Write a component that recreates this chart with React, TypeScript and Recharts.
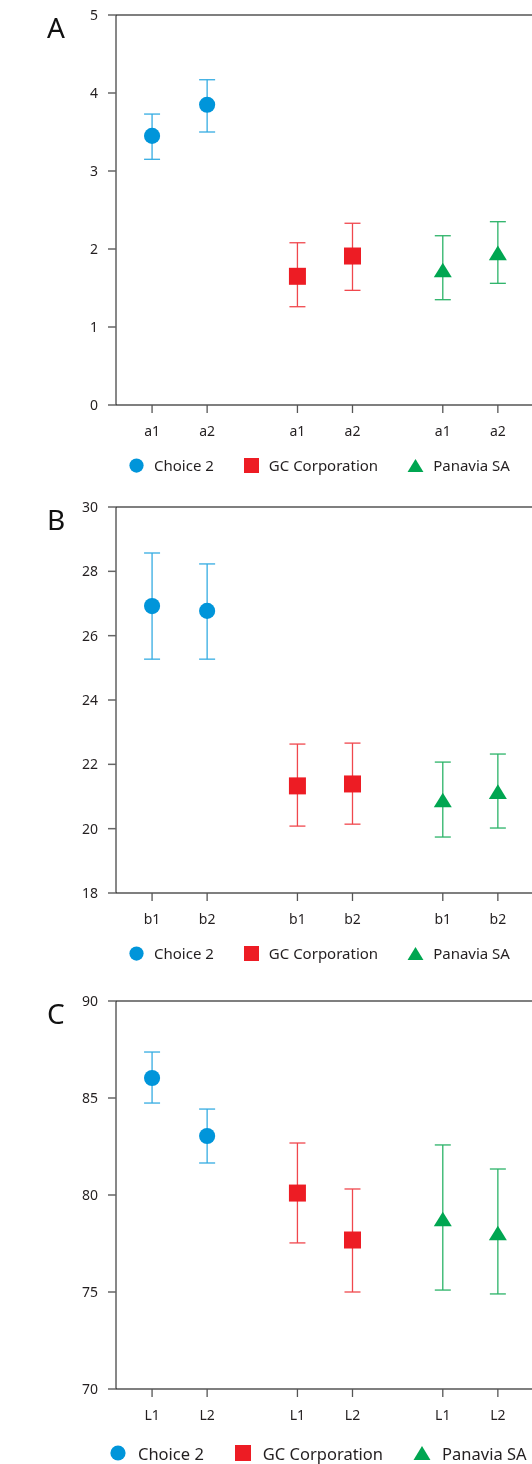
import React from "react";
import {
  ScatterChart,
  Scatter,
  XAxis,
  YAxis,
  ErrorBar,
  ReferenceLine,
  Legend,
} from "recharts";

const seriesNames = ["Choice 2", "GC Corporation", "Panavia SA"];
const seriesColors = ["#0095da", "#ed1c24", "#00a651"];
const barColors = ["#35ace2", "#f0474d", "#2bb368"];
const markerKinds = ["circle", "square", "triangle"];

// Panel A
const labelsA = ["a1", "a2"];
const choiceMeanA = [3.45, 3.85];
const choiceLowA = [3.15, 3.5];
const choiceHighA = [3.73, 4.17];
const gcMeanA = [1.65, 1.91];
const gcLowA = [1.26, 1.47];
const gcHighA = [2.08, 2.33];
const panaviaMeanA = [1.73, 1.95];
const panaviaLowA = [1.35, 1.56];
const panaviaHighA = [2.17, 2.35];
const yTicksA = [0, 1, 2, 3, 4, 5];

// Panel B
const labelsB = ["b1", "b2"];
const choiceMeanB = [26.92, 26.77];
const choiceLowB = [25.27, 25.27];
const choiceHighB = [28.57, 28.23];
const gcMeanB = [21.33, 21.39];
const gcLowB = [20.08, 20.14];
const gcHighB = [22.63, 22.66];
const panaviaMeanB = [20.89, 21.15];
const panaviaLowB = [19.74, 20.02];
const panaviaHighB = [22.07, 22.32];
const yTicksB = [18, 20, 22, 24, 26, 28, 30];

// Panel C
const labelsC = ["L1", "L2"];
const choiceMeanC = [86.03, 83.04];
const choiceLowC = [84.74, 81.65];
const choiceHighC = [87.37, 84.43];
const gcMeanC = [80.1, 77.68];
const gcLowC = [77.53, 75.0];
const gcHighC = [82.68, 80.31];
const panaviaMeanC = [78.76, 78.04];
const panaviaLowC = [75.1, 74.9];
const panaviaHighC = [82.58, 81.34];
const yTicksC = [70, 75, 80, 85, 90];

const FONT = '"Noto Sans", sans-serif';
const TEXT = "#231f20";
const AXIS = "#555";
const CHART_W = 524;
const TOP_PAD = 15;
const GROUP_STEP = 2.64; // spacing between groups, in units of in-pair spacing

function drawMarker(kind: string, cx: number, cy: number, size: number, color: string) {
  if (kind === "circle") return <circle cx={cx} cy={cy} r={size * 0.475} fill={color} />;
  if (kind === "square")
    return <rect x={cx - size / 2} y={cy - size / 2} width={size} height={size} fill={color} />;
  const w = size * 1.06;
  const h = size * 0.86;
  return (
    <polygon
      points={`${cx},${cy - h / 2} ${cx - w / 2},${cy + h / 2} ${cx + w / 2},${cy + h / 2}`}
      fill={color}
    />
  );
}

function LegendRow({ fontSize, size, pad, gap, itemGap }: any) {
  return (
    <div
      style={{
        display: "flex",
        alignItems: "center",
        paddingLeft: pad,
        height: "100%",
        fontFamily: FONT,
        fontSize,
        color: TEXT,
        whiteSpace: "nowrap",
      }}
    >
      {seriesNames.map((name, i) => {
        const w = Math.ceil(size * 1.08);
        return (
          <div key={name} style={{ display: "flex", alignItems: "center", marginRight: itemGap }}>
            <svg width={w} height={size} style={{ display: "block" }}>
              {drawMarker(markerKinds[i], w / 2, size / 2, size, seriesColors[i])}
            </svg>
            <span style={{ marginLeft: gap }}>{name}</span>
          </div>
        );
      })}
    </div>
  );
}

function Panel({
  top,
  letter,
  labels,
  means,
  lows,
  highs,
  yTicks,
  plotHeight,
  xAxisHeight,
  legend,
}: any) {
  const series = means.map((m: number[], g: number) =>
    m.map((v, i) => ({
      x: g * GROUP_STEP + i,
      y: v,
      err: [v - lows[g][i], highs[g][i] - v],
    }))
  );
  const xTicks = series.flat().map((p: any) => p.x);
  const tickLabel = (v: number) => {
    const idx = xTicks.findIndex((t: number) => Math.abs(t - v) < 1e-6);
    return idx < 0 ? "" : labels[idx % labels.length];
  };
  const yMin = yTicks[0];
  const yMax = yTicks[yTicks.length - 1];
  const legendH = 20;
  const height = TOP_PAD + plotHeight + xAxisHeight + legendH;

  return (
    <div style={{ position: "absolute", top, left: 8 }}>
      <ScatterChart
        width={CHART_W}
        height={height}
        margin={{ top: TOP_PAD, right: 0, bottom: 0, left: 0 }}
      >
        <XAxis
          type="number"
          dataKey="x"
          domain={[-0.655, 6.9]}
          ticks={xTicks}
          tickFormatter={tickLabel}
          height={xAxisHeight}
          tickSize={8}
          tickMargin={13}
          axisLine={{ stroke: AXIS, strokeWidth: 1.3 }}
          tickLine={{ stroke: AXIS, strokeWidth: 1.3 }}
          tick={{ fill: TEXT, fontSize: 14, fontFamily: FONT }}
          allowDataOverflow
        />
        <YAxis
          type="number"
          dataKey="y"
          domain={[yMin, yMax]}
          ticks={yTicks}
          width={108}
          tickSize={8}
          tickMargin={10}
          axisLine={{ stroke: "#111", strokeWidth: 1 }}
          tickLine={{ stroke: "#666", strokeWidth: 1.5 }}
          tick={{ fill: TEXT, fontSize: 14, fontFamily: FONT }}
          allowDataOverflow
        />
        <ReferenceLine y={yMax} stroke={AXIS} strokeWidth={1.3} />
        <Legend
          verticalAlign="bottom"
          height={legendH}
          wrapperStyle={{ left: 0, width: CHART_W, height: legendH }}
          content={() => <LegendRow {...legend} />}
        />
        {series.map((pts: any[], g: number) => (
          <Scatter
            key={seriesNames[g]}
            name={seriesNames[g]}
            data={pts}
            fill={seriesColors[g]}
            isAnimationActive={false}
            shape={(p: any) => drawMarker(markerKinds[g], p.cx, p.cy, 17, seriesColors[g])}
          >
            <ErrorBar
              dataKey="err"
              direction="y"
              width={8}
              stroke={barColors[g]}
              strokeWidth={1.3}
              isAnimationActive={false}
            />
          </Scatter>
        ))}
      </ScatterChart>
      <div
        style={{
          position: "absolute",
          left: 39,
          top: TOP_PAD - 2,
          fontFamily: FONT,
          fontSize: 28,
          lineHeight: 1,
          color: "#111",
        }}
      >
        {letter}
      </div>
    </div>
  );
}

const smallLegend = { fontSize: 15, size: 15, pad: 120, gap: 9, itemGap: 29 };
const bigLegend = { fontSize: 16.5, size: 16, pad: 101, gap: 11, itemGap: 30 };

export default function App() {
  // fixed so that nothing here makes the page scroll
  return (
    <div style={{ position: "fixed", top: 0, left: 0, width: 532, height: 1464 }}>
      <Panel
        top={0}
        letter="A"
        labels={labelsA}
        means={[choiceMeanA, gcMeanA, panaviaMeanA]}
        lows={[choiceLowA, gcLowA, panaviaLowA]}
        highs={[choiceHighA, gcHighA, panaviaHighA]}
        yTicks={yTicksA}
        plotHeight={390}
        xAxisHeight={50}
        legend={smallLegend}
      />
      <Panel
        top={492}
        letter="B"
        labels={labelsB}
        means={[choiceMeanB, gcMeanB, panaviaMeanB]}
        lows={[choiceLowB, gcLowB, panaviaLowB]}
        highs={[choiceHighB, gcHighB, panaviaHighB]}
        yTicks={yTicksB}
        plotHeight={386}
        xAxisHeight={50}
        legend={smallLegend}
      />
      <Panel
        top={986}
        letter="C"
        labels={labelsC}
        means={[choiceMeanC, gcMeanC, panaviaMeanC]}
        lows={[choiceLowC, gcLowC, panaviaLowC]}
        highs={[choiceHighC, gcHighC, panaviaHighC]}
        yTicks={yTicksC}
        plotHeight={388}
        xAxisHeight={54}
        legend={bigLegend}
      />
    </div>
  );
}
